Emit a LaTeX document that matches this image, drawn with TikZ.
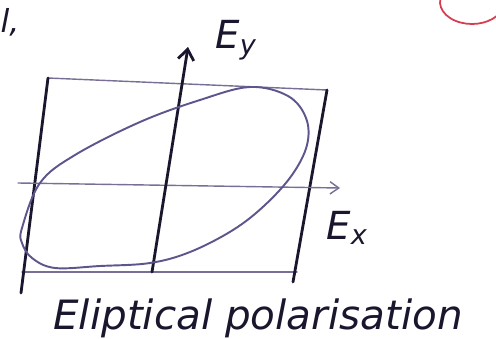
\documentclass[tikz,border=0pt]{standalone}
\usepackage{fontspec}
\setmainfont{DejaVu Sans}
\usetikzlibrary{arrows.meta}
\definecolor{ink}{RGB}{25,22,45}
\definecolor{thinink}{RGB}{120,110,150}
\definecolor{ellink}{RGB}{95,85,140}
\definecolor{redink}{RGB}{215,60,80}
\tikzset{
  heavy/.style={ink, line width=1.6pt, line cap=round},
  light/.style={thinink, line width=0.8pt, line cap=round},
  ellstroke/.style={ellink, line width=1.1pt},
  lbl/.style={ink, font=\itshape\fontsize{22}{24}\selectfont, inner sep=0pt},
  captext/.style={ink, font=\itshape\fontsize{23}{26}\selectfont, inner sep=0pt}
}
\begin{document}
\begin{tikzpicture}[x=0.02cm,y=-0.02cm]
\useasboundingbox (0,0) rectangle (496,338);
% corners
\coordinate (tl) at (48,78);
\coordinate (tr) at (327,90);
\coordinate (bl) at (22,272);
\coordinate (br) at (297,272);
\coordinate (lb) at (21,293);
\coordinate (rb) at (293,282);
% rectangle
\draw[light] (tl) -- (tr);
\draw[light] (bl) -- (br);
\draw[heavy] (tl) -- (lb);
\draw[heavy] (tr) -- (rb);
% axes
\coordinate (xs) at (18,183);
\coordinate (xe) at (340,188);
\coordinate (ys) at (152,272);
\coordinate (ye) at (188,47);
\draw[light,-{Straight Barb[length=5pt,width=7pt]}] (xs) -- (xe);
\draw[heavy,-{Straight Barb[length=6pt,width=9pt]}] (ys) -- (ye);
% ellipse
\draw[ellstroke] plot[smooth cycle, tension=0.6] coordinates {
 (22,228) (40,183) (75,155) (140,122) (200,100) (250,87) (288,96) (306,118)
 (307,145) (292,175) (265,205) (233,230) (190,252) (150,263) (100,266)
 (55,268) (32,258) (22,243)};
% labels
\node[lbl] (ey) at (236,40) {E$_{\mathit y}$};
\node[lbl] (ex) at (347,228) {E$_{\mathit x}$};
\node[captext] (cp) at (258,318) {Eliptical polarisation};
% fragments at top
\node[lbl, font=\itshape\fontsize{18}{20}\selectfont] (fr) at (10,22) {l,};
\coordinate (rc) at (472,2);
\draw[redink, line width=1pt] (rc) ++(200:32 and 22) arc[start angle=200, end angle=30, x radius=32, y radius=22];
\end{tikzpicture}
\end{document}
